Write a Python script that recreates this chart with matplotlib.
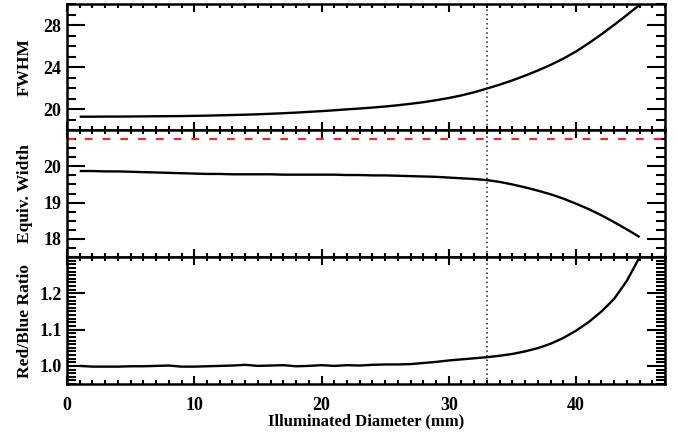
import numpy as np
import matplotlib
matplotlib.use("Agg")
import matplotlib.pyplot as plt
from matplotlib.ticker import MultipleLocator, FormatStrFormatter

plt.rcParams['font.family'] = ['Liberation Serif', 'DejaVu Serif']
plt.rcParams['font.weight'] = 'bold'

# Illuminated diameter (mm)
diameter = list(range(1, 46))

fwhm = [19.27, 19.27, 19.28, 19.28, 19.29, 19.30, 19.31, 19.32, 19.33, 19.35,
        19.37, 19.40, 19.43, 19.46, 19.50, 19.55, 19.60, 19.66, 19.73, 19.80,
        19.88, 19.97, 20.05, 20.14, 20.24, 20.36, 20.50, 20.65, 20.84, 21.05,
        21.30, 21.60, 21.95, 22.32, 22.73, 23.18, 23.67, 24.20, 24.80, 25.48,
        26.27, 27.12, 28.02, 28.96, 29.92]

equiv_width = [19.87, 19.87, 19.86, 19.86, 19.85, 19.84, 19.83, 19.82, 19.81, 19.80,
               19.79, 19.79, 19.78, 19.78, 19.78, 19.78, 19.77, 19.77, 19.77, 19.77,
               19.77, 19.76, 19.76, 19.75, 19.75, 19.74, 19.73, 19.72, 19.71, 19.69,
               19.67, 19.65, 19.62, 19.57, 19.50, 19.42, 19.33, 19.23, 19.11, 18.97,
               18.82, 18.65, 18.46, 18.26, 18.05]

red_blue = [1.000, 0.998, 0.998, 0.998, 0.999, 0.999, 1.000, 1.001, 0.998, 0.998,
            0.999, 1.000, 1.001, 1.003, 1.000, 1.001, 1.002, 0.999, 1.000, 1.002,
            1.000, 1.002, 1.001, 1.003, 1.004, 1.004, 1.005, 1.008, 1.011, 1.015,
            1.018, 1.021, 1.024, 1.028, 1.033, 1.040, 1.049, 1.061, 1.077, 1.097,
            1.121, 1.150, 1.185, 1.235, 1.300]

reference_width = 20.74
cut_diameter = 33

fig = plt.figure(figsize=(6.78, 4.32), dpi=100)
left, width = 0.0988, 0.8822
boxes = [(0.699, 0.2917), (0.405, 0.294), (0.111, 0.294)]
axes = [fig.add_axes([left, b, width, h]) for b, h in boxes]

panels = [
    (fwhm, "FWHM", (18, 30), [20, 24, 28], 1),
    (equiv_width, "Equiv. Width", (17.5, 21), [18, 19, 20], 0.25),
    (red_blue, "Red/Blue Ratio", (0.95, 1.3), [1.0, 1.1, 1.2], 0.01),
]

for ax, (vals, label, ylim, yticks, minor) in zip(axes, panels):
    ax.plot(diameter, vals, color='black', lw=1.7, solid_capstyle='butt')
    ax.axvline(cut_diameter, color='#222222', lw=1.1, ls=(0, (1, 2.0)))
    ax.set_xlim(0, 47)
    ax.set_ylim(*ylim)
    ax.xaxis.set_major_locator(MultipleLocator(10))
    ax.xaxis.set_minor_locator(MultipleLocator(1))
    ax.set_yticks(yticks)
    ax.yaxis.set_minor_locator(MultipleLocator(minor))
    ax.tick_params(which='both', direction='in', top=True, right=True,
                   width=1.5, labelsize=13)
    ax.tick_params(axis='y', which='major', length=13, pad=4)
    ax.tick_params(axis='y', which='minor', length=6.5)
    ax.tick_params(axis='x', which='major', length=6, pad=9)
    ax.tick_params(axis='x', which='minor', length=3)
    for s in ax.spines.values():
        s.set_linewidth(1.8)
    ax.set_ylabel(label, fontsize=12.5, fontweight='bold')
    ax.yaxis.set_label_coords(-0.057, 0.5)
    if ax is not axes[-1]:
        ax.tick_params(labelbottom=False)

axes[1].axhline(reference_width, color='#d9342b', lw=1.6, ls=(0, (3.5, 4.5)))
axes[2].yaxis.set_major_formatter(FormatStrFormatter('%.1f'))
axes[2].set_xlabel("Illuminated Diameter (mm)", fontsize=12, fontweight='bold',
                   labelpad=0)

fig.savefig("out.png", dpi=100)
